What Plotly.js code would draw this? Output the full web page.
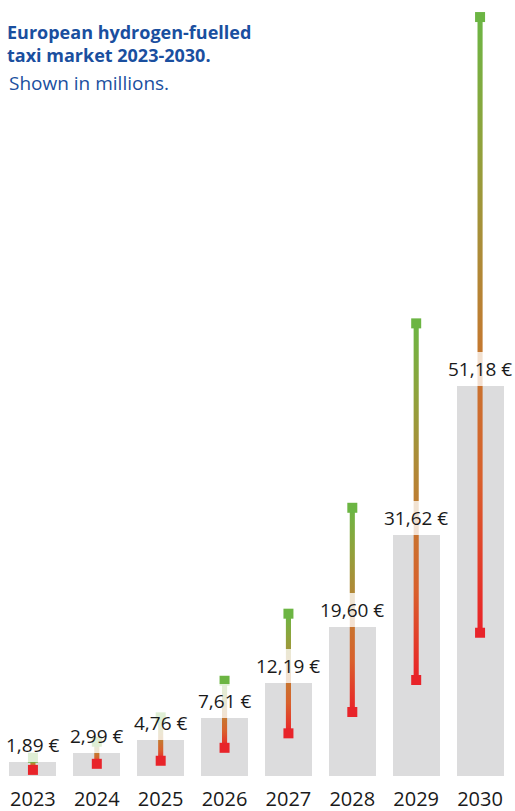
<!DOCTYPE html>
<html>
<head>
<meta charset="utf-8">
<script src="https://cdn.plot.ly/plotly-3.0.1.min.js"></script>
<style>
  html, body { margin: 0; padding: 0; background: #ffffff; }
  #chart { width: 515px; height: 811px; }
</style>
</head>
<body>
<div id="chart"></div>
<script>
// ---- Data ----
const years = ['2023', '2024', '2025', '2026', '2027', '2028', '2029', '2030'];
const marketValue = [1.89, 2.99, 4.76, 7.61, 12.19, 19.60, 31.62, 51.18];
const rangeLow = [0.8, 1.6, 2.0, 3.7, 5.6, 8.4, 12.6, 18.8];
const rangeHigh = [2.4, 4.5, 7.7, 12.5, 21.3, 35.2, 59.4, 99.6];
const valueLabels = ['1,89 €', '2,99 €', '4,76 €', '7,61 €', '12,19 €', '19,60 €', '31,62 €', '51,18 €'];

// ---- Styling ----
const BAR_COLOR = '#dcdcdd';
const RED = '#e8242a';
const GREEN = '#6cb543';
const TEXT = '#1a1a1a';
const BLUE = '#1a4f9f';
const FONT = '"Open Sans", "Noto Sans", sans-serif';
const gradient = [
  [0.0, '#ea2228'],
  [0.25, '#d9602c'],
  [0.45, '#c5772f'],
  [0.62, '#ac8c38'],
  [0.8, '#8fa33c'],
  [1.0, '#6cb544']
];
const LINE_HALF = 0.04; // half width of range line in category units

const idx = years.map((_, i) => i);

const traces = [];
traces.push({
  type: 'bar',
  x: idx,
  y: marketValue,
  width: 0.736,
  marker: { color: BAR_COLOR, line: { width: 0 } },
  hoverinfo: 'skip',
  showlegend: false
});

idx.forEach(i => {
  const lo = rangeLow[i], hi = rangeHigh[i];
  traces.push({
    type: 'scatter',
    mode: 'lines',
    x: [i - LINE_HALF, i + LINE_HALF, i + LINE_HALF, i - LINE_HALF, i - LINE_HALF],
    y: [lo, lo, hi, hi, lo],
    fill: 'toself',
    fillgradient: { type: 'vertical', colorscale: gradient },
    line: { width: 0 },
    hoverinfo: 'skip',
    showlegend: false
  });
});

traces.push({
  type: 'scatter', mode: 'markers', x: idx, y: rangeLow,
  marker: { symbol: 'square', size: 10, color: RED, line: { width: 0 } },
  hoverinfo: 'skip', showlegend: false
});
traces.push({
  type: 'scatter', mode: 'markers', x: idx, y: rangeHigh,
  marker: { symbol: 'square', size: 10, color: GREEN, line: { width: 0 } },
  hoverinfo: 'skip', showlegend: false
});

const annotations = idx.map(i => ({
  x: i, y: marketValue[i], xref: 'x', yref: 'y',
  text: valueLabels[i],
  showarrow: false,
  xanchor: 'center', yanchor: 'bottom',
  bgcolor: 'rgba(255,255,255,0.78)',
  borderpad: 4, borderwidth: 0,
  font: { family: FONT, size: 19, color: TEXT }
}));

annotations.push({
  xref: 'paper', yref: 'paper',
  x: 6 / 511, y: (776 - 83) / 770,
  xanchor: 'left', yanchor: 'middle',
  text: 'Shown in millions.',
  showarrow: false,
  font: { family: FONT, size: 19, color: BLUE }
});

const layout = {
  width: 515, height: 811,
  margin: { l: 1, r: 3, t: 6, b: 35 },
  paper_bgcolor: '#ffffff',
  plot_bgcolor: '#ffffff',
  title: {
    text: '<b>European hydrogen-fuelled<br>taxi market 2023-2030.</b>',
    xref: 'container', yref: 'container',
    x: 7 / 515, xanchor: 'left',
    y: 1 - 39 / 811, yanchor: 'top',
    font: { family: FONT, size: 18, color: BLUE }
  },
  xaxis: {
    type: 'linear',
    range: [-0.5, 7.5],
    tickmode: 'array', tickvals: idx, ticktext: years,
    showgrid: false, zeroline: false, showline: false, ticks: '',
    ticklabelstandoff: 9,
    tickfont: { family: FONT, size: 20, color: TEXT },
    fixedrange: true
  },
  yaxis: {
    range: [0, 101.05],
    visible: false, showgrid: false, zeroline: false,
    fixedrange: true
  },
  annotations: annotations,
  showlegend: false,
  bargap: 0
};

Plotly.newPlot('chart', traces, layout, { displayModeBar: false, staticPlot: true });
</script>
</body>
</html>
